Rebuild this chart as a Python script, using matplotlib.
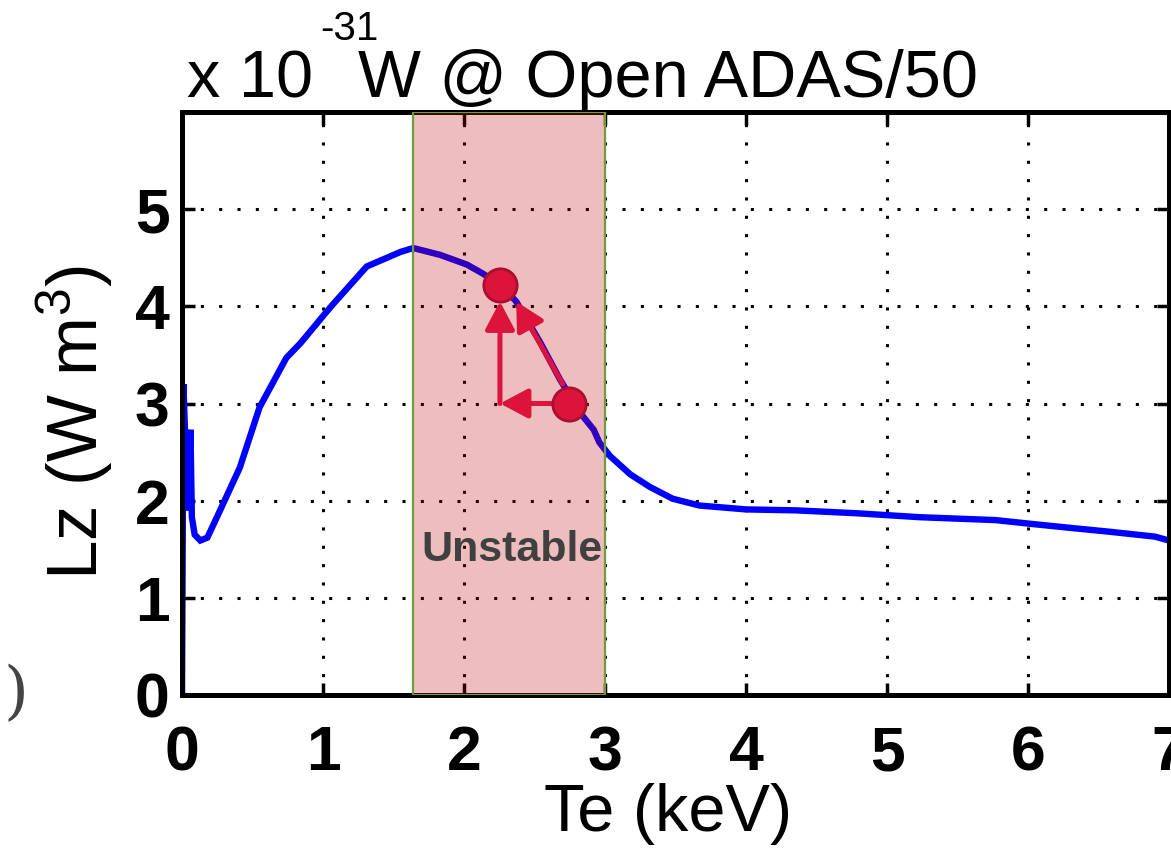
import matplotlib
matplotlib.use("Agg")
import matplotlib.pyplot as plt

plt.rcParams['font.family'] = ['Liberation Sans', 'DejaVu Sans']
plt.rcParams['mathtext.default'] = 'regular'

# Lz curve (Te in keV, Lz in 1e-31 W m^3)
te = [0.0, 0.01, 0.04, 0.06, 0.07, 0.09, 0.13, 0.18, 0.27, 0.41, 0.55, 0.74,
      0.84, 1.0, 1.07, 1.31, 1.55, 1.64, 1.83, 2.02, 2.13, 2.26, 2.37, 2.54,
      2.68, 2.82, 2.92, 2.96, 3.035, 3.18, 3.32, 3.48, 3.67, 4.0, 4.36, 4.79,
      5.23, 5.77, 6.03, 6.3, 6.58, 6.9, 7.0]
lz = [0.0, 3.2, 1.9, 2.73, 1.83, 1.65, 1.59, 1.62, 1.90, 2.34, 2.96, 3.47,
      3.62, 3.90, 4.02, 4.41, 4.56, 4.60, 4.53, 4.43, 4.34, 4.22, 4.05, 3.63,
      3.25, 2.91, 2.73, 2.60, 2.46, 2.27, 2.14, 2.02, 1.95, 1.91, 1.90, 1.87,
      1.83, 1.80, 1.76, 1.72, 1.68, 1.63, 1.59]

unstable = (1.64, 3.0)
mark_te = [2.255, 2.745]
mark_lz = [4.22, 3.0]
# arrows: (start, tip)
arrows = [((2.70, 3.2), (2.37, 4.05)),
          ((2.63, 3.0), (2.255, 3.0)),
          ((2.255, 3.0), (2.255, 4.05))]

xticks = [0, 1, 2, 3, 4, 5, 6, 7]
yticks = [0, 1, 2, 3, 4, 5]

W, H = 1171, 850
fig = plt.figure(figsize=(W / 100, H / 100), dpi=100)
ax = fig.add_axes([182 / W, 1 - 695 / H, 987 / W, 583 / H])

ax.plot(te, lz, color='#0000FF', lw=4.6, zorder=2, solid_joinstyle='miter')
ax.axvspan(unstable[0], unstable[1], facecolor=(0.74, 0.0, 0.0, 0.255),
           edgecolor='#6E9E3C', lw=1.6, zorder=3)
ax.text(2.34, 1.49, 'Unstable', color='#404040', fontsize=31,
        fontweight='bold', ha='center', va='center', zorder=4)

red = '#DC143C'
for (x0, y0), (x1, y1) in arrows:
    ax.annotate('', xy=(x1, y1), xytext=(x0, y0), zorder=5,
                arrowprops=dict(arrowstyle='-|>,head_length=0.85,head_width=0.45',
                                mutation_scale=20, lw=3.6, color=red,
                                shrinkA=0, shrinkB=0))
ax.plot(mark_te, mark_lz, 'o', ms=24, mfc=red, mec='#A8102E', mew=2,
        zorder=6, ls='none')

ax.set_xlim(0, 7)
ax.set_ylim(0, 6)
ax.set_xticks(xticks)
ax.set_yticks(yticks)
ax.set_axisbelow(True)
ax.grid(True, color='k', linestyle=(0, (1, 5)), lw=2.2)
for s in ax.spines.values():
    s.set_linewidth(3.6)
ax.tick_params(direction='in', length=9, width=2.5, top=True, right=True,
               labelsize=45)
ax.tick_params(axis='x', pad=21)
ax.tick_params(axis='y', pad=9)
for lab in ax.get_xticklabels() + ax.get_yticklabels():
    lab.set_fontweight('bold')

# title pieces with the exponent raised
fig.text(187 / W, 1 - 97 / H, 'x 10', fontsize=48, ha='left', va='baseline')
fig.text(320 / W, 1 - 40 / H, '-31', fontsize=29, ha='left', va='baseline')
fig.text(358 / W, 1 - 97 / H, 'W @ Open ADAS/50', fontsize=48,
         ha='left', va='baseline')

fig.text(75 / W, 1 - 422 / H, 'Lz (W m$^3$)', fontsize=51, rotation=90,
         ha='center', va='center')
fig.text(668 / W, 1 - 814 / H, 'Te (keV)', fontsize=48, ha='center',
         va='center')
fig.text(4 / W, 1 - 695 / H, ')', fontsize=46, color='#444444',
         family='DejaVu Serif', ha='left', va='center')

fig.savefig('out.png', dpi=100)
